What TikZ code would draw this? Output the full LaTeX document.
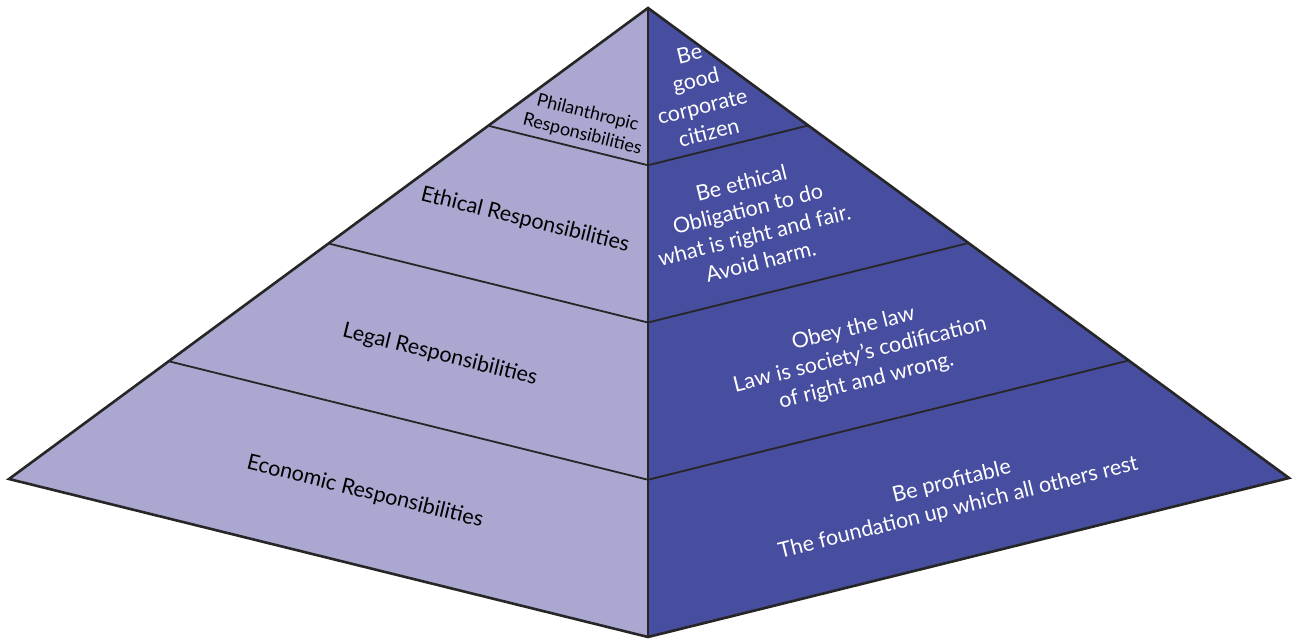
\documentclass[tikz,border=0pt]{standalone}
\usepackage{fontspec}
\setmainfont{Lato}
\definecolor{lightface}{HTML}{AAA8D0}
\definecolor{darkface}{HTML}{474D9F}
\begin{document}
\begin{tikzpicture}[x=1pt,y=-1pt,
  outline/.style={draw=black!85,line width=2.6pt,line join=miter},
  divider/.style={draw=black!85,line width=1.8pt},
  lefttext/.style={text=black,align=center,rotate=-13.9,font=\fontsize{21.5}{26}\selectfont,inner sep=0pt},
  righttext/.style={text=white,align=center,rotate=13.9,font=\fontsize{21.5}{27}\selectfont,inner sep=0pt}]
\useasboundingbox (0,0) rectangle (1293,639);
\coordinate (A) at (648,8);
\coordinate (L) at (9,479);
\coordinate (R) at (1289,478);
\coordinate (B) at (648,637);
% divider coordinates
\coordinate (l1) at (488.25,125.75);
\coordinate (l2) at (328.5,243.5);
\coordinate (l3) at (168.75,361.25);
\coordinate (c1) at (648,165.25);
\coordinate (c2) at (648,322.5);
\coordinate (c3) at (648,479.75);
\coordinate (r1) at (808.25,125.5);
\coordinate (r2) at (968.5,243);
\coordinate (r3) at (1128.75,360.5);
\fill[lightface] (A) -- (L) -- (B) -- cycle;
\fill[darkface] (A) -- (R) -- (B) -- cycle;
\draw[divider] (l1) -- (c1) -- (r1);
\draw[divider] (l2) -- (c2) -- (r2);
\draw[divider] (l3) -- (c3) -- (r3);
\draw[outline] (A) -- (B);
\draw[outline] (A) -- (L) -- (B) -- (R) -- cycle;
% left labels
\node[lefttext,font=\fontsize{18}{22}\selectfont] (phil) at (585,124) {Philanthropic\\Responsibilities};
\node[lefttext] (eth) at (525,220) {Ethical Responsibilities};
\node[lefttext] (leg) at (440,355) {Legal Responsibilities};
\node[lefttext] (eco) at (365,492) {Economic Responsibilities};
% right labels
\node[righttext] (citizen) at (699,93) {Be\\good\\corporate\\citizen};
\node[righttext] (ethR) at (751,222) {Be ethical\\Obligation to do\\what is right and fair.\\Avoid harm.};
\node[righttext] (legR) at (860,355) {Obey the law\\Law is society’s codification\\of right and wrong.};
\node[righttext] (ecoR) at (955,495) {Be profitable\\The foundation up which all others rest};
\end{tikzpicture}
\end{document}
